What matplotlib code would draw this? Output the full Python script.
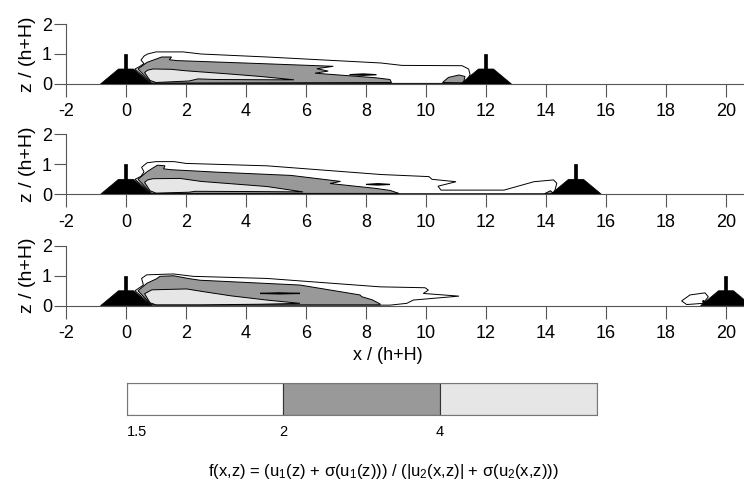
import matplotlib
matplotlib.use("Agg")
import matplotlib.pyplot as plt
from matplotlib.patches import Polygon

plt.rcParams['font.family'] = ['Liberation Sans', 'DejaVu Sans']
plt.rcParams['mathtext.fontset'] = 'custom'
plt.rcParams['mathtext.rm'] = 'Liberation Sans'
plt.rcParams['mathtext.it'] = 'Liberation Sans'

# axes ticks
x_ticks = list(range(-2, 21, 2))
z_ticks = [0, 1, 2]

# obstacle positions (first always at 0, second one per panel)
upstream_obstacle = 0
downstream_obstacle = [12, 15, 20]

# colour levels of f(x,z)
level_labels = ['1.5', '2', '4']
level_colors = ['white', '#999999', '#e6e6e6']

# --- panel 1 regions (x, z) ---
white_1 = [(0.3, 0.5), (0.45, 0.58), (0.6, 0.68), (0.5, 0.8), (0.6, 0.93), (0.72, 1.0),
           (1.0, 1.07), (1.9, 1.07), (2.5, 1.0), (4.7, 0.9), (8.5, 0.7), (9.2, 0.62),
           (11.2, 0.61), (11.42, 0.5), (11.47, 0.31), (11.36, 0.14), (11.22, 0.02),
           (0.85, 0.02)]
dark_1 = [(0.4, 0.5), (0.7, 0.72), (1.19, 0.9), (1.52, 0.9), (1.44, 0.81), (1.69, 0.78),
          (4.5, 0.68), (6.91, 0.59), (6.36, 0.51), (6.74, 0.43), (6.3, 0.36), (8.3, 0.21),
          (8.8, 0.15), (8.85, 0.05), (0.85, 0.03)]
light_1 = [(0.62, 0.38), (0.72, 0.46), (0.9, 0.5), (1.5, 0.49), (2.0, 0.44), (3.5, 0.33),
           (4.5, 0.25), (5.6, 0.14), (5.0, 0.14), (3.0, 0.15), (2.4, 0.17), (2.1, 0.1),
           (1.0, 0.05), (0.8, 0.12)]
island_1 = [(7.45, 0.31), (7.9, 0.335), (8.35, 0.31), (7.9, 0.29)]
blob_1 = [(10.55, 0.05), (10.75, 0.22), (11.1, 0.3), (11.3, 0.25), (11.25, 0.04)]

# --- panel 2 ---
white_2 = [(0.3, 0.5), (0.5, 0.6), (0.6, 0.75), (0.52, 0.9), (0.7, 1.05), (1.0, 1.09),
           (1.6, 1.09), (2.0, 1.03), (4.7, 0.95), (8.5, 0.66), (10.1, 0.59), (10.2, 0.5),
           (11.0, 0.42), (10.4, 0.27), (10.5, 0.14), (12.6, 0.14), (13.6, 0.42),
           (14.25, 0.48), (14.36, 0.37), (14.3, 0.14), (14.24, 0.02), (0.85, 0.02)]
dark_2 = [(0.4, 0.5), (0.7, 0.75), (0.9, 0.88), (1.05, 0.97), (1.3, 0.95), (1.25, 0.85),
          (1.5, 0.82), (3.0, 0.74), (5.5, 0.63), (7.15, 0.43), (6.8, 0.36), (8.3, 0.2),
          (8.8, 0.13), (9.1, 0.03), (0.85, 0.03)]
light_2 = [(0.62, 0.4), (0.72, 0.48), (0.9, 0.52), (1.8, 0.53), (2.5, 0.43), (4.7, 0.26),
           (5.9, 0.08), (4.5, 0.09), (2.3, 0.1), (2.1, 0.07), (1.0, 0.04), (0.8, 0.12)]
island_2 = [(8.0, 0.33), (8.4, 0.355), (8.8, 0.33), (8.4, 0.31)]
blob_2 = [(13.95, 0.02), (14.15, 0.12), (14.25, 0.02)]

# --- panel 3 ---
white_3 = [(0.3, 0.5), (0.58, 0.69), (0.52, 0.91), (0.69, 1.03), (1.58, 1.06), (2.24, 0.98),
           (4.7, 0.91), (8.47, 0.63), (9.97, 0.6), (10.08, 0.52), (9.91, 0.41), (11.1, 0.32),
           (9.58, 0.19), (9.36, 0.08), (8.8, 0.02), (0.85, 0.02)]
dark_3 = [(0.4, 0.5), (0.7, 0.75), (1.02, 0.9), (1.13, 0.98), (1.58, 1.0), (2.13, 0.9),
          (2.47, 0.85), (5.8, 0.69), (7.8, 0.36), (7.86, 0.3), (8.2, 0.2), (8.47, 0.06),
          (8.47, 0.03), (0.85, 0.03)]
light_3 = [(0.62, 0.4), (0.86, 0.53), (2.02, 0.56), (2.58, 0.47), (3.5, 0.33), (4.69, 0.19),
           (5.8, 0.08), (4.5, 0.05), (2.47, 0.03), (1.0, 0.03), (0.8, 0.1)]
island_3 = [(4.47, 0.41), (5.1, 0.43), (5.8, 0.41), (5.1, 0.395)]
blob_3 = [(18.52, 0.16), (18.8, 0.36), (19.3, 0.43), (19.41, 0.3), (19.24, 0.08), (18.69, 0.04)]
dot_3 = (19.24, 0.16)

panels = [
    (white_1, dark_1, light_1, island_1, blob_1, '#999999'),
    (white_2, dark_2, light_2, island_2, blob_2, '#999999'),
    (white_3, dark_3, light_3, island_3, blob_3, 'white'),
]


def obstacle(ax, c):
    base = [(c - 0.85, 0), (c - 0.25, 0.5), (c + 0.25, 0.5), (c + 0.85, 0)]
    fence = [(c - 0.05, 0.45), (c - 0.05, 1.0), (c + 0.05, 1.0), (c + 0.05, 0.45)]
    ax.add_patch(Polygon(base, closed=True, fc='black', ec='black', lw=0.5, zorder=3))
    ax.add_patch(Polygon(fence, closed=True, fc='black', ec='black', lw=0.5, zorder=3))


fig = plt.figure(figsize=(7.44, 4.83), dpi=100)
bottoms = [0.8261, 0.5977, 0.367]
spine_col = '#555555'

for i, (white, dark, light, island, blob, blob_col) in enumerate(panels):
    ax = fig.add_axes([0.0887, bottoms[i], 0.9113, 0.1242])
    ax.add_patch(Polygon(white, closed=True, fc=level_colors[0], ec='black', lw=0.7))
    ax.add_patch(Polygon(dark, closed=True, fc=level_colors[1], ec='black', lw=0.7))
    ax.add_patch(Polygon(light, closed=True, fc=level_colors[2], ec='black', lw=0.7))
    ax.add_patch(Polygon(island, closed=True, fc=level_colors[1], ec='black', lw=0.9))
    ax.add_patch(Polygon(blob, closed=True, fc=blob_col, ec='black', lw=0.7))
    if i == 2:
        ax.plot([dot_3[0]], [dot_3[1]], 'k.', ms=2)
    obstacle(ax, upstream_obstacle)
    obstacle(ax, downstream_obstacle[i])

    ax.set_xlim(-2, 20.6)
    ax.set_ylim(0, 2)
    ax.set_xticks(x_ticks)
    ax.set_xticklabels([str(t) for t in x_ticks])
    ax.set_yticks(z_ticks)
    ax.set_yticklabels([str(t) for t in z_ticks])
    ax.tick_params(axis='both', direction='out', length=9, width=0.8, color=spine_col,
                   labelsize=13)
    ax.tick_params(axis='x', pad=5)
    ax.tick_params(axis='y', pad=1)
    for s in ['top', 'right']:
        ax.spines[s].set_visible(False)
    for s in ['left', 'bottom']:
        ax.spines[s].set_color(spine_col)
        ax.spines[s].set_linewidth(0.8)
    ax.set_ylabel('z / (h+H)', fontsize=14, labelpad=4)
    ax.patch.set_alpha(0)

fig.text(0.5215, 0.265, 'x / (h+H)', ha='center', va='center', fontsize=13)

# colour bar
cax = fig.add_axes([0.1703, 0.1408, 0.6317, 0.0656])
for k, col in enumerate(level_colors):
    cax.bar(k, 1, width=1, align='edge', color=col, edgecolor='#333333', linewidth=0.8)
cax.set_xlim(0, 3)
cax.set_ylim(0, 1)
cax.set_yticks([])
cax.set_xticks([0, 1, 2])
cax.set_xticklabels(level_labels)
cax.get_xticklabels()[0].set_horizontalalignment('left')
cax.tick_params(axis='x', length=0, pad=7, labelsize=10.5)
for s in cax.spines.values():
    s.set_color('#777777')
    s.set_linewidth(0.8)

fig.text(0.515, 0.024,
         r'f(x,z) = (u$_1$(z) + σ(u$_1$(z))) / (|u$_2$(x,z)| + σ(u$_2$(x,z)))',
         ha='center', va='center', fontsize=12)

fig.savefig('out.png', dpi=100)
